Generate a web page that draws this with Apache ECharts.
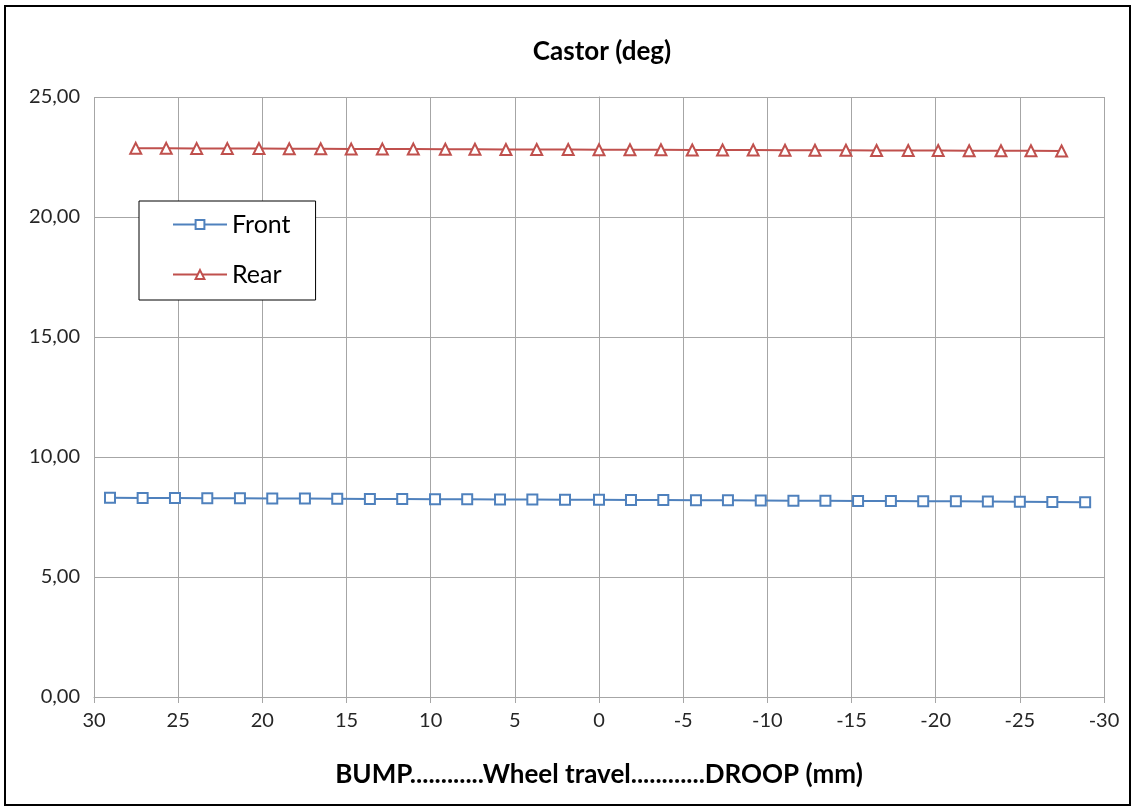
<!DOCTYPE html>
<html>
<head>
<meta charset="utf-8">
<script src="https://cdn.jsdelivr.net/npm/echarts@6/dist/echarts.min.js"></script>
<style>
html,body{margin:0;padding:0;background:#fff;}
#chart{width:1135px;height:810px;}
</style>
</head>
<body>
<div id="chart"></div>
<script>
var titleText = 'Castor (deg)';
var xAxisName = 'BUMP............Wheel travel............DROOP (mm)';
var seriesNames = ['Front', 'Rear'];

var frontX = [29.05, 27.11, 25.19, 23.27, 21.33, 19.41, 17.47, 15.55, 13.61, 11.69, 9.74, 7.83, 5.88, 3.96, 2.02, 0.0, -1.90, -3.82, -5.76, -7.66, -9.61, -11.55, -13.45, -15.39, -17.34, -19.26, -21.20, -23.10, -25.00, -26.93, -28.88];
var frontY = [8.30, 8.29, 8.29, 8.28, 8.28, 8.27, 8.27, 8.26, 8.25, 8.25, 8.24, 8.24, 8.23, 8.23, 8.22, 8.22, 8.21, 8.21, 8.20, 8.20, 8.19, 8.18, 8.18, 8.17, 8.17, 8.16, 8.16, 8.15, 8.14, 8.13, 8.11];

var rearX = [27.52, 25.71, 23.90, 22.08, 20.20, 18.40, 16.53, 14.72, 12.87, 11.03, 9.13, 7.37, 5.53, 3.70, 1.83, 0.0, -1.84, -3.68, -5.54, -7.34, -9.16, -11.05, -12.83, -14.67, -16.49, -18.37, -20.15, -21.99, -23.88, -25.66, -27.48];
var rearY = [22.86, 22.86, 22.85, 22.85, 22.85, 22.84, 22.84, 22.83, 22.83, 22.83, 22.82, 22.82, 22.81, 22.81, 22.81, 22.80, 22.80, 22.80, 22.79, 22.79, 22.79, 22.78, 22.78, 22.78, 22.77, 22.77, 22.77, 22.76, 22.76, 22.76, 22.75];

function pairs(xs, ys) {
  return xs.map(function (x, i) { return [x, ys[i]]; });
}

var FONT = 'Lato, "Open Sans", sans-serif';
var chart = echarts.init(document.getElementById('chart'), null, { renderer: 'canvas' });

chart.setOption({
  backgroundColor: '#fff',
  animation: false,
  graphic: [{
    type: 'rect',
    shape: { x: 5, y: 6, width: 1125, height: 799 },
    style: { fill: 'none', stroke: '#000', lineWidth: 2 },
    z: 100
  }],
  title: {
    text: titleText,
    left: 597,
    textAlign: 'center',
    top: 34,
    textStyle: { fontFamily: FONT, fontWeight: 'bold', fontSize: 26, color: '#000' }
  },
  legend: {
    orient: 'vertical',
    left: 139,
    top: 201,
    backgroundColor: '#fff',
    borderColor: '#000',
    borderWidth: 1,
    padding: [11, 25, 13, 33],
    itemWidth: 54,
    itemHeight: 11,
    itemGap: 25,
    textStyle: { fontFamily: FONT, fontSize: 25, color: '#000' },
    data: seriesNames
  },
  grid: { left: 94, right: 31, top: 97, bottom: 113, containLabel: false },
  xAxis: {
    type: 'value',
    inverse: true,
    min: -30,
    max: 30,
    interval: 5,
    name: xAxisName,
    nameLocation: 'middle',
    nameGap: 65,
    nameTextStyle: { fontFamily: FONT, fontWeight: 'bold', fontSize: 26, color: '#000' },
    axisLine: { show: true, lineStyle: { color: '#A6A6A6', width: 1 } },
    axisTick: { show: true, length: 6, inside: false, lineStyle: { color: '#A6A6A6' } },
    axisLabel: { fontFamily: FONT, fontSize: 20, color: '#262626', margin: 14 },
    splitLine: { show: true, lineStyle: { color: '#A6A6A6', width: 1 } }
  },
  yAxis: {
    type: 'value',
    min: 0,
    max: 25,
    interval: 5,
    axisLine: { show: true, lineStyle: { color: '#A6A6A6', width: 1 } },
    axisTick: { show: true, length: 6, lineStyle: { color: '#A6A6A6' } },
    axisLabel: {
      fontFamily: FONT, fontSize: 20, color: '#262626', margin: 14,
      formatter: function (v) { return v.toFixed(2).replace('.', ','); }
    },
    splitLine: { show: true, lineStyle: { color: '#A6A6A6', width: 1 } }
  },
  series: [
    {
      name: seriesNames[0],
      type: 'line',
      data: pairs(frontX, frontY),
      symbol: 'rect',
      symbolSize: 10,
      lineStyle: { color: '#4F81BD', width: 2 },
      itemStyle: { color: '#fff', borderColor: '#4F81BD', borderWidth: 2 }
    },
    {
      name: seriesNames[1],
      type: 'line',
      data: pairs(rearX, rearY),
      symbol: 'triangle',
      symbolSize: 11,
      lineStyle: { color: '#C0504D', width: 2 },
      itemStyle: { color: '#fff', borderColor: '#C0504D', borderWidth: 2 }
    }
  ]
});
</script>
</body>
</html>
